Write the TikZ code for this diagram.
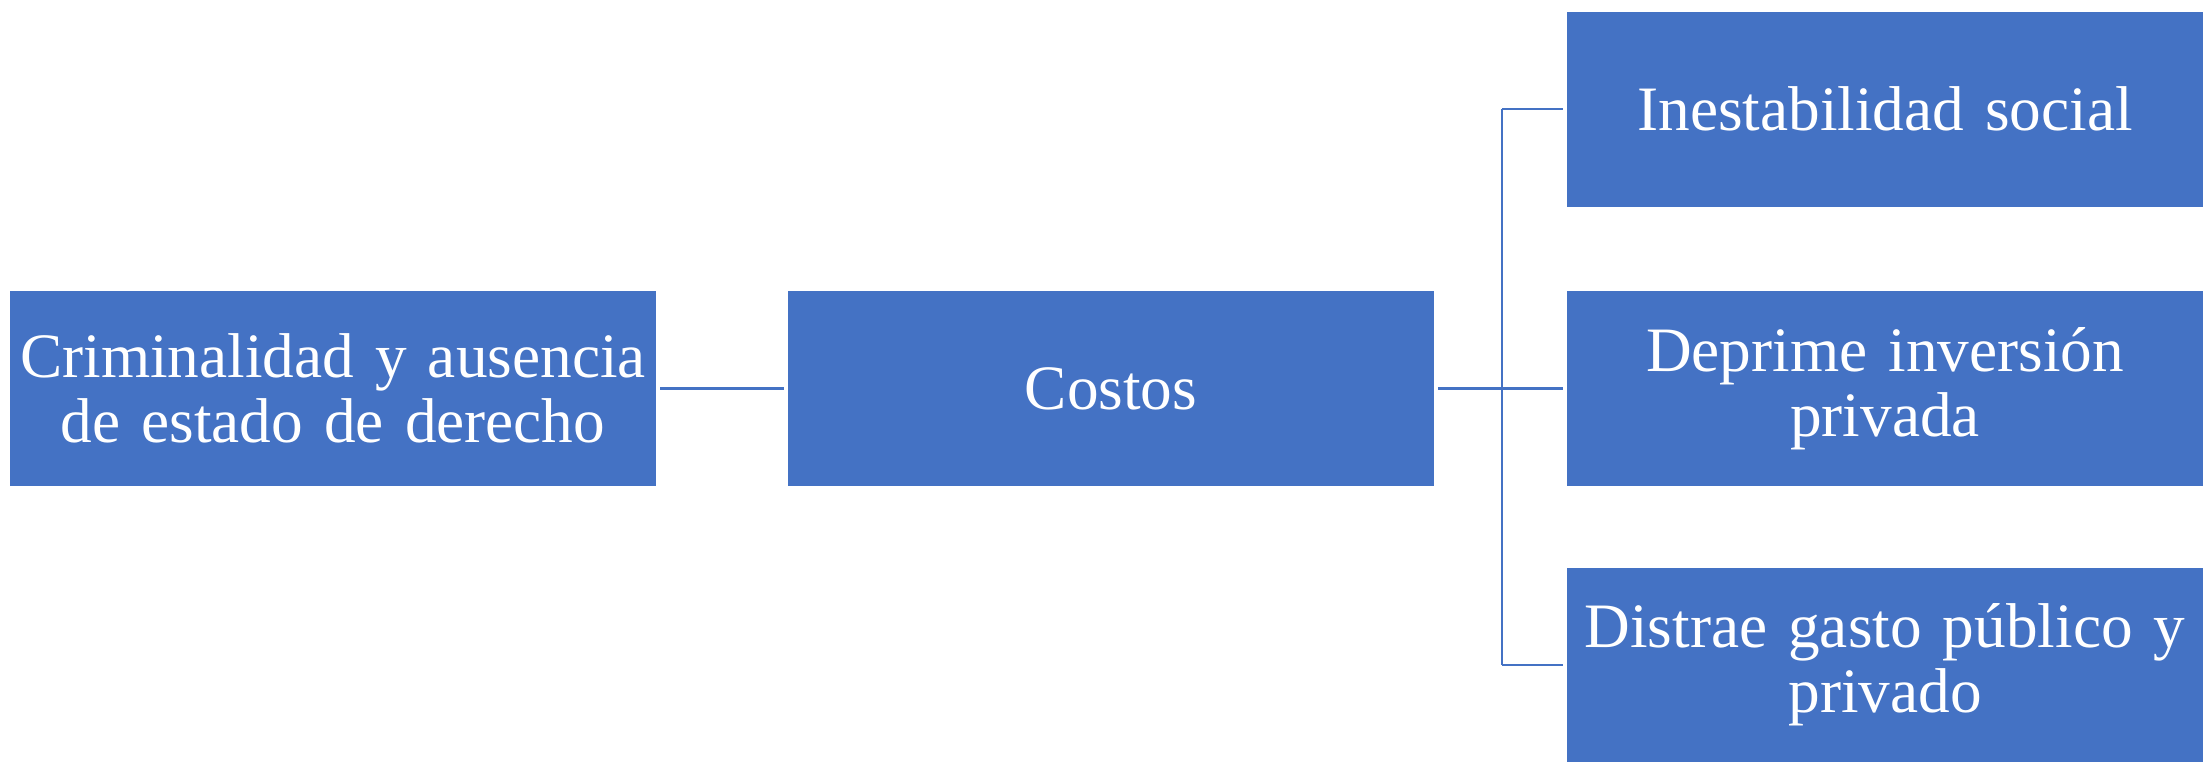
\documentclass[tikz,border=0pt]{standalone}
\usepackage{fontspec}
\setmainfont{Liberation Serif}
\usepackage{xcolor}
\definecolor{azul}{HTML}{4472C4}
\usetikzlibrary{arrows}

\begin{document}
\begin{tikzpicture}[
	caja/.style={fill=azul,text=white,inner sep=0pt,minimum height=1.95cm,
		align=center,font=\fontsize{18}{18.5}\selectfont},
	ancha/.style={caja,minimum width=6.46cm,text width=6.4cm},
	derecha/.style={caja,minimum width=6.36cm,text width=6.3cm}]
		\useasboundingbox (0,0) rectangle (22.03,7.61);
		\node[ancha] (crim) at (3.33,3.725) {Criminalidad y ausencia\\de estado de derecho};
		\node[ancha] (costos) at (11.11,3.725) {Costos};
		\node[derecha] (inest) at (18.85,6.52) {Inestabilidad social};
		\node[derecha] (deprime) at (18.85,3.725) {Deprime inversión\\privada};
		\node[derecha] (distrae) at (18.85,0.96) {Distrae gasto público y\\privado};
		\coordinate (bus) at (15.02,3.725);
		%
		\path[draw=azul,line width=0.7pt,shorten <=1pt,shorten >=1pt]
		(crim) edge (costos)
		(costos) edge (deprime);
		\draw[azul,line width=0.7pt,shorten >=1pt]
		(bus |- inest) -- (inest.west);
		\draw[azul,line width=0.7pt,shorten >=1pt]
		(bus |- distrae) -- (distrae.west);
		\draw[azul,line width=0.7pt]
		(bus |- inest) -- (bus |- distrae);
		\end{tikzpicture}
\end{document}
